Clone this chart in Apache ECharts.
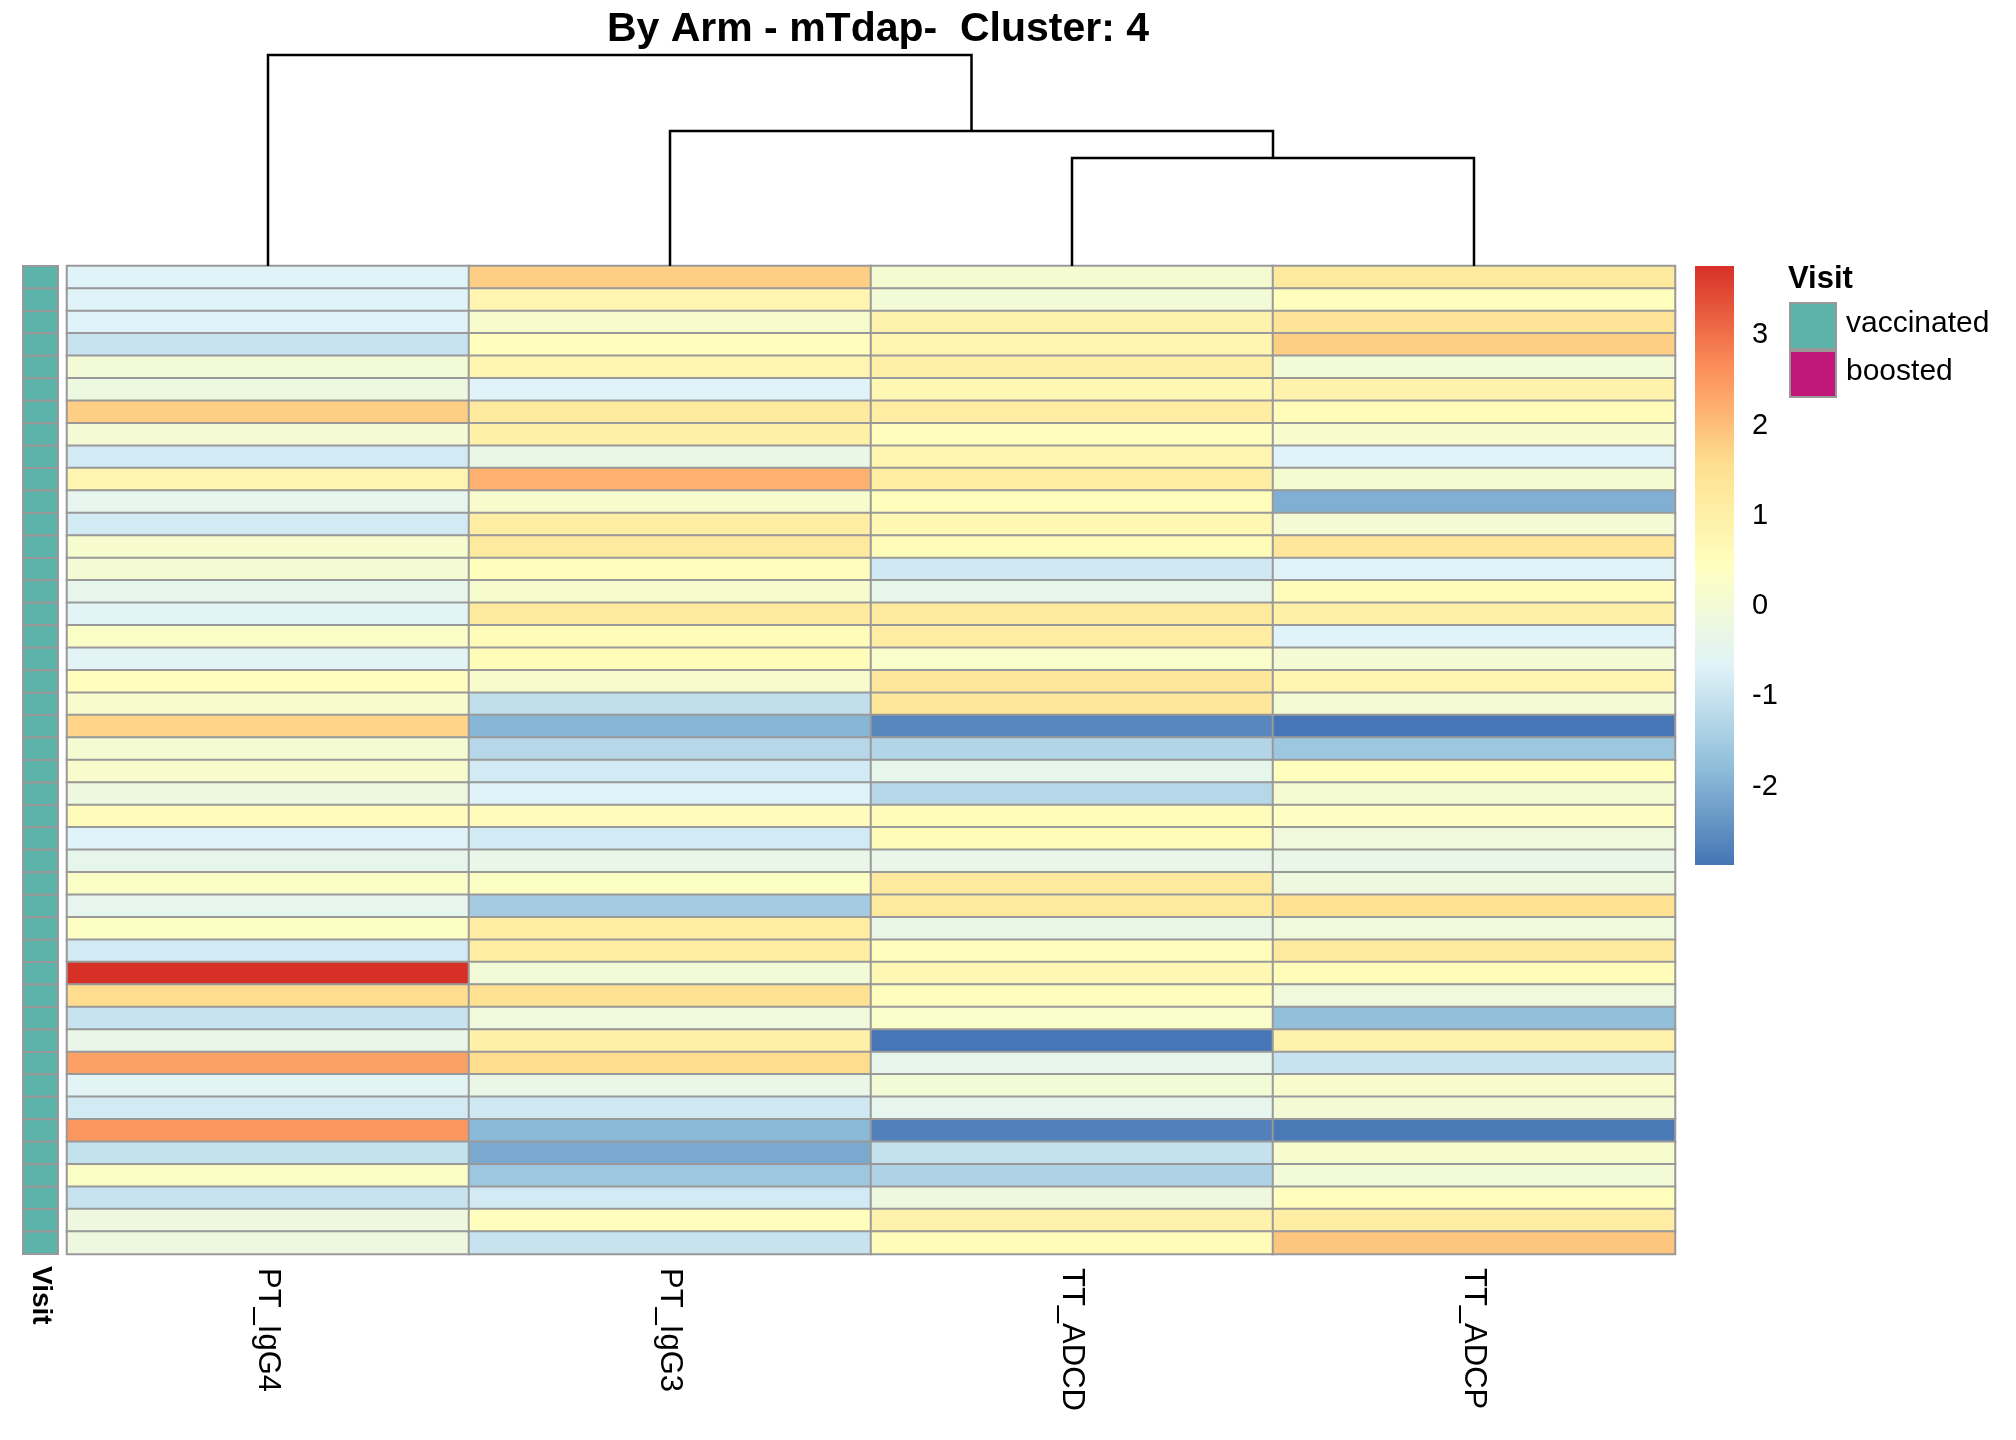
<!DOCTYPE html>
<html><head><meta charset="utf-8">
<script src="https://cdn.jsdelivr.net/npm/echarts@6/dist/echarts.min.js"></script>
<style>html,body{margin:0;padding:0;background:#fff}#c{width:2016px;height:1440px}</style>
</head><body><div id="c"></div>
<script>
const columns = ['PT_IgG4','PT_IgG3','TT_ADCD','TT_ADCP'];
const colPT_IgG4 = [-0.65,-0.65,-0.65,-1.0,0.0,-0.2,1.8,0.05,-0.85,0.8,-0.45,-0.85,0.15,0.05,-0.4,-0.6,0.3,-0.6,0.5,0.2,1.7,0.1,0.2,-0.15,0.55,-0.65,-0.4,0.3,-0.45,0.35,-0.85,3.77,1.6,-1.0,-0.35,2.4,-0.6,-0.85,2.55,-1.05,0.3,-1.0,-0.15,-0.15];
const colPT_IgG3 = [1.8,0.8,0.2,0.5,0.8,-0.65,1.2,1.0,-0.3,2.2,0.2,1.1,1.2,0.5,0.15,1.2,0.6,0.6,0.2,-1.1,-1.9,-1.25,-0.85,-0.65,0.55,-0.85,-0.35,0.35,-1.5,1.1,1.1,0.0,1.5,-0.1,1.0,1.6,-0.3,-0.9,-1.85,-2.1,-1.6,-0.85,0.5,-1.0];
const colTT_ADCD = [0.1,0.0,0.9,0.8,1.0,0.7,1.1,0.5,0.8,1.1,0.5,0.7,0.6,-0.9,-0.4,1.2,1.1,0.25,1.3,1.3,-2.6,-1.3,-0.4,-1.25,0.6,0.6,-0.35,1.2,1.2,-0.3,0.5,0.7,0.5,0.25,-2.85,-0.4,0.0,-0.45,-2.7,-1.05,-1.35,-0.15,0.9,0.6];
const colTT_ADCP = [1.2,0.5,1.4,1.8,0.0,0.9,0.6,0.2,-0.65,0.1,-2.0,0.05,1.3,-0.65,0.6,1.0,-0.65,0.05,0.8,0.05,-2.85,-1.6,0.5,0.1,0.4,-0.1,-0.35,-0.15,1.5,-0.1,1.2,0.6,-0.1,-1.75,0.9,-1.0,0.2,0.05,-2.8,0.15,0.0,0.5,1.1,1.9];
const visit = Array(44).fill('vaccinated');
const visitLevels = ['vaccinated','boosted'];
const visitColors = ['#5BB3A9','#C2177A'];
const scaleMin = -2.87, scaleMax = 3.77;
const scaleTicks = [-2,-1,0,1,2,3];
const palette = ['#4575B4','#91BFDB','#E0F3F8','#FFFFBF','#FEE090','#FC8D59','#D73027'];
// dendrogram merges: [xLeft, xRight, height, leftChildHeight, rightChildHeight]
const merges = [[2,3,1.08,0,0],[1,2.5,1.35,0,1.08],[0,1.75,2.11,0,1.35]];

const cols = [colPT_IgG4,colPT_IgG3,colTT_ADCD,colTT_ADCP];
const rows = visit.map((v,i)=>String(i+1));
const hm = [];
cols.forEach((c,ci)=>c.forEach((v,ri)=>hm.push([ci,ri,v])));
const FONT = 'Liberation Sans, Arial, sans-serif';
const L=67,R=2016-1675,T=266,B=1440-1254;
const chart = echarts.init(document.getElementById('c'));
chart.setOption({
  animation:false,
  title:{text:'By Arm - mTdap-  Cluster: 4',left:873,top:4,textAlign:'center',textStyle:{fontFamily:FONT,fontWeight:'bold',fontSize:41,color:'#000'}},
  grid:[
    {left:L,right:R,top:T,bottom:B},
    {left:23,width:35,top:T,bottom:B},
    {left:L,right:R,top:55,height:211},
    {left:1695,width:39,top:266,height:599}
  ],
  xAxis:[
    {type:'category',gridIndex:0,data:columns,axisLine:{show:false},axisTick:{show:false},splitLine:{show:false},
     axisLabel:{rotate:-90,fontFamily:FONT,fontSize:31,color:'#000',margin:14}},
    {type:'category',gridIndex:1,data:['Visit'],axisLine:{show:false},axisTick:{show:false},
     axisLabel:{rotate:-90,fontFamily:FONT,fontSize:28,fontWeight:'bold',color:'#000',margin:12}},
    {type:'value',gridIndex:2,min:-0.5,max:3.5,show:false},
    {type:'category',gridIndex:3,data:['s'],show:false}
  ],
  yAxis:[
    {type:'category',gridIndex:0,data:rows,inverse:true,show:false},
    {type:'category',gridIndex:1,data:rows,inverse:true,show:false},
    {type:'value',gridIndex:2,min:0,max:2.11,show:false},
    {type:'value',gridIndex:3,min:scaleMin,max:scaleMax,position:'right',axisLine:{show:false},splitLine:{show:false},
     axisTick:{show:false},axisLabel:{customValues:scaleTicks,fontFamily:FONT,fontSize:29,color:'#000',margin:18}}
  ],
  visualMap:{show:false,seriesIndex:0,min:scaleMin,max:scaleMax,inRange:{color:palette}},
  series:[
    {type:'heatmap',xAxisIndex:0,yAxisIndex:0,data:hm,itemStyle:{borderColor:'#999',borderWidth:2}},
    {type:'custom',xAxisIndex:1,yAxisIndex:1,data:visit.map((v,i)=>[0,i,visitLevels.indexOf(v)]),
     renderItem:(p,api)=>{const c=api.coord([api.value(0),api.value(1)]);const s=api.size([1,1]);
       return {type:'rect',shape:{x:c[0]-s[0]/2,y:c[1]-s[1]/2,width:s[0],height:s[1]},style:{fill:visitColors[api.value(2)],stroke:'#999',lineWidth:2}};}},
    {type:'custom',xAxisIndex:2,yAxisIndex:2,data:merges,
     renderItem:(p,api)=>{const a=api.coord([api.value(0),api.value(3)]),b=api.coord([api.value(0),api.value(2)]),
       c=api.coord([api.value(1),api.value(2)]),d=api.coord([api.value(1),api.value(4)]);
       return {type:'polyline',shape:{points:[a,b,c,d]},style:{stroke:'#000',lineWidth:2.5,fill:null}};}},
    {type:'custom',xAxisIndex:3,yAxisIndex:3,data:[[0,scaleMin,scaleMax]],
     renderItem:(p,api)=>{const top=api.coord([0,api.value(2)]),bot=api.coord([0,api.value(1)]);const w=api.size([1,0])[0];
       return {type:'rect',shape:{x:top[0]-w/2,y:top[1],width:w,height:bot[1]-top[1]},
         style:{fill:new echarts.graphic.LinearGradient(0,1,0,0,palette.map((c,i)=>({offset:i/(palette.length-1),color:c})))}};}}
  ],
  graphic:[
    {type:'text',left:1788,top:264,style:{text:'Visit',font:'bold 31px '+FONT,fill:'#000'}},
    ...visitLevels.map((v,i)=>({type:'rect',shape:{x:1790,y:303+i*48,width:46,height:46},style:{fill:visitColors[i],stroke:'#999',lineWidth:2}})),
    ...visitLevels.map((v,i)=>({type:'text',left:1846,top:309+i*48,style:{text:v,font:'30px '+FONT,fill:'#000'}}))
  ]
});
</script></body></html>
